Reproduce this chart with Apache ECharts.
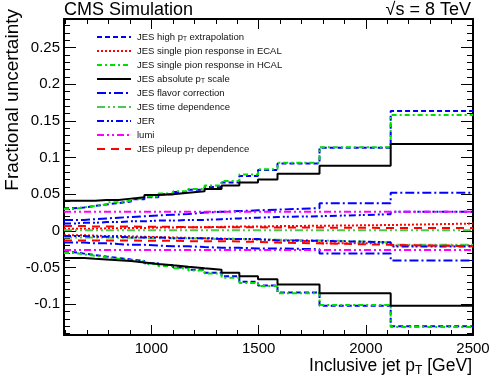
<!DOCTYPE html>
<html>
<head>
<meta charset="utf-8">
<script src="https://cdn.jsdelivr.net/npm/echarts@6/dist/echarts.min.js"></script>
<style>
  html, body { margin: 0; padding: 0; background: #fff; }
  #chart { width: 498px; height: 387px; }
</style>
</head>
<body>
<div id="chart"></div>
<script>
// bin edges (GeV)
var edges = [592, 638, 686, 737, 790, 846, 905, 967, 1032, 1101, 1172, 1248, 1327, 1410, 1497, 1588, 1784, 2116, 2500];

// tick labels
var xMajorTicks = [1000, 1500, 2000, 2500];
var yMajorTicks = [-0.1, -0.05, 0, 0.05, 0.1, 0.15, 0.2, 0.25];

// one value per bin, up / down
var highPtUp = [0.031, 0.032, 0.034, 0.036, 0.038, 0.040, 0.043, 0.046, 0.050, 0.053, 0.056, 0.060, 0.066, 0.075, 0.083, 0.092, 0.1135, 0.1635];
var highPtDn = [-0.029, -0.031, -0.033, -0.035, -0.037, -0.039, -0.041, -0.044, -0.047, -0.050, -0.053, -0.057, -0.062, -0.0695, -0.0745, -0.084, -0.102, -0.130];
var ecalUp = [0.003, 0.003, 0.003, 0.0035, 0.0035, 0.004, 0.004, 0.0045, 0.0045, 0.005, 0.005, 0.0055, 0.006, 0.006, 0.0065, 0.007, 0.008, 0.010];
var ecalDn = [-0.006, -0.006, -0.0065, -0.007, -0.007, -0.0075, -0.008, -0.0085, -0.009, -0.0095, -0.010, -0.0105, -0.011, -0.012, -0.013, -0.014, -0.017, -0.020];
var hcalUp = [0.030, 0.032, 0.034, 0.036, 0.039, 0.041, 0.044, 0.047, 0.051, 0.054, 0.057, 0.062, 0.068, 0.077, 0.084, 0.093, 0.114, 0.158];
var hcalDn = [-0.030, -0.032, -0.034, -0.036, -0.038, -0.040, -0.042, -0.045, -0.048, -0.051, -0.054, -0.058, -0.064, -0.071, -0.075, -0.085, -0.101, -0.131];
var absUp = [0.041, 0.041, 0.041, 0.042, 0.042, 0.044, 0.046, 0.049, 0.050, 0.052, 0.054, 0.057, 0.062, 0.066, 0.070, 0.078, 0.089, 0.1185];
var absDn = [-0.037, -0.037, -0.038, -0.039, -0.040, -0.041, -0.043, -0.045, -0.047, -0.049, -0.051, -0.053, -0.057, -0.062, -0.066, -0.073, -0.085, -0.102];
var flavorUp = [0.015, 0.015, 0.016, 0.017, 0.018, 0.019, 0.020, 0.021, 0.022, 0.023, 0.025, 0.026, 0.027, 0.028, 0.029, 0.031, 0.0377, 0.052];
var flavorDn = [-0.016, -0.016, -0.017, -0.017, -0.018, -0.019, -0.019, -0.020, -0.021, -0.021, -0.022, -0.023, -0.023, -0.024, -0.024, -0.025, -0.031, -0.0405];
var timeUp = [0.0008, 0.0008, 0.0008, 0.0008, 0.0008, 0.0008, 0.0008, 0.0008, 0.0008, 0.0008, 0.0008, 0.0008, 0.0008, 0.0008, 0.0008, 0.0008, 0.0008, 0.0008];
var timeDn = [-0.009, -0.009, -0.009, -0.009, -0.0095, -0.0095, -0.0095, -0.010, -0.010, -0.010, -0.0105, -0.011, -0.011, -0.0115, -0.012, -0.013, -0.0155, -0.019];
var jerUp = [0.010, 0.011, 0.011, 0.012, 0.012, 0.013, 0.013, 0.014, 0.014, 0.015, 0.015, 0.016, 0.017, 0.018, 0.019, 0.020, 0.0227, 0.026];
var jerDn = [-0.007, -0.007, -0.008, -0.008, -0.008, -0.009, -0.009, -0.009, -0.010, -0.010, -0.010, -0.011, -0.011, -0.011, -0.013, -0.0135, -0.0155, -0.0214];
var lumiUp = [0.026, 0.026, 0.026, 0.026, 0.026, 0.026, 0.026, 0.026, 0.026, 0.026, 0.026, 0.026, 0.026, 0.026, 0.026, 0.026, 0.026, 0.026];
var lumiDn = [-0.026, -0.026, -0.026, -0.026, -0.026, -0.026, -0.026, -0.026, -0.026, -0.026, -0.026, -0.026, -0.026, -0.026, -0.026, -0.026, -0.026, -0.026];
var pileupUp = [0.0065, 0.0065, 0.006, 0.006, 0.006, 0.006, 0.0055, 0.0055, 0.0055, 0.005, 0.005, 0.005, 0.005, 0.005, 0.0045, 0.0045, 0.004, 0.004];
var pileupDn = [-0.013, -0.013, -0.013, -0.013, -0.013, -0.013, -0.0135, -0.0135, -0.0135, -0.014, -0.014, -0.014, -0.0145, -0.015, -0.016, -0.017, -0.019, -0.021];

var sources = [
  {name: 'JES high pT extrapolation', up: highPtUp, dn: highPtDn, color: '#0000ff', type: [5, 3]},
  {name: 'JES single pion response in ECAL', up: ecalUp, dn: ecalDn, color: '#ff0000', type: [2, 2]},
  {name: 'JES single pion response in HCAL', up: hcalUp, dn: hcalDn, color: '#00e000', type: [5, 3, 2, 3]},
  {name: 'JES absolute pT scale', up: absUp, dn: absDn, color: '#000000', type: 'solid'},
  {name: 'JES flavor correction', up: flavorUp, dn: flavorDn, color: '#0000ff', type: [9, 3, 2, 3]},
  {name: 'JES time dependence', up: timeUp, dn: timeDn, color: '#4cc84c', type: [8, 3, 2, 3, 2, 3]},
  {name: 'JER', up: jerUp, dn: jerDn, color: '#0000ff', type: [7, 3, 2, 2, 2, 3]},
  {name: 'lumi', up: lumiUp, dn: lumiDn, color: '#ff00ff', type: [7, 3, 2, 3, 2, 3]},
  {name: 'JES pileup pT dependence', up: pileupUp, dn: pileupDn, color: '#ff0000', type: [8, 6]}
];

var font = 'Liberation Sans';

function toSteps(vals) {
  // last edge repeats the last bin value
  return edges.map(function (e, i) {
    return [e, vals[Math.min(i, vals.length - 1)]];
  });
}

function minorTicks(from, to, step, scale) {
  var out = [];
  for (var i = from; i <= to; i += step) out.push(i / scale);
  return out;
}

function initChart() {
  var chart = echarts.init(document.getElementById('chart'), null, {renderer: 'canvas'});

  var xMinor = minorTicks(600, 2500, 100, 1);
  var yMinor = minorTicks(-14, 28, 1, 100);

  var series = [];
  sources.forEach(function (s) {
    [s.up, s.dn].forEach(function (vals) {
      series.push({
        name: s.name,
        type: 'line',
        step: 'end',
        symbol: 'none',
        xAxisIndex: 0,
        yAxisIndex: 0,
        data: toSteps(vals),
        lineStyle: {color: s.color, width: 2, type: s.type},
        itemStyle: {color: s.color},
        emphasis: {disabled: true}
      });
    });
  });

  function xAx(pos, ticks, len, labels, line) {
    return {
      type: 'value', min: 592, max: 2500, position: pos,
      axisLine: {show: line, onZero: false, lineStyle: {color: '#000', width: 2}},
      axisTick: {show: true, inside: true, length: len, customValues: ticks, lineStyle: {color: '#000', width: 1}},
      axisLabel: labels ? {
        show: true, customValues: xMajorTicks, color: '#000', fontSize: 15, fontFamily: font, margin: 6,
        formatter: function (v) { return String(v); }
      } : {show: false},
      splitLine: {show: false}
    };
  }

  function yAx(pos, ticks, len, labels, line) {
    return {
      type: 'value', min: -0.142, max: 0.289, position: pos,
      axisLine: {show: line, onZero: false, lineStyle: {color: '#000', width: 2}},
      axisTick: {show: true, inside: true, length: len, customValues: ticks, lineStyle: {color: '#000', width: 1}},
      axisLabel: labels ? {
        show: true, customValues: yMajorTicks, color: '#000', fontSize: 15, fontFamily: font, margin: 4,
        formatter: function (v) { return String(v); }
      } : {show: false},
      splitLine: {show: false}
    };
  }

  chart.setOption({
    animation: false,
    backgroundColor: '#fff',
    grid: {left: 64, right: 25, top: 19, bottom: 52, containLabel: false},
    xAxis: [
      xAx('bottom', xMajorTicks, 10, true, true),
      xAx('bottom', xMinor, 5, false, false),
      xAx('top', xMajorTicks, 10, false, true),
      xAx('top', xMinor, 5, false, false)
    ],
    yAxis: [
      yAx('left', yMajorTicks, 12, true, true),
      yAx('left', yMinor, 6, false, false),
      yAx('right', yMajorTicks, 12, false, true),
      yAx('right', yMinor, 6, false, false)
    ],
    legend: {
      data: sources.map(function (s) { return s.name; }),
      orient: 'vertical',
      left: 91,
      top: 26,
      itemWidth: 34,
      itemHeight: 12,
      itemGap: 2,
      selectedMode: false,
      itemStyle: {opacity: 0},
      formatter: function (name) {
        return name.replace('pT', 'p{s|T}');
      },
      textStyle: {
        fontFamily: font, fontSize: 9.5, color: '#111', lineHeight: 12,
        padding: [0, 0, 0, 1],
        rich: {
          s: {fontFamily: font, fontSize: 6.5, lineHeight: 12, verticalAlign: 'bottom', padding: [4, 0, 0, 0], color: '#111'}
        }
      }
    },
    graphic: [
      {type: 'text', x: 64, y: 1, style: {text: 'CMS Simulation', font: '18px "Liberation Sans"', fill: '#000'}},
      {type: 'text', x: 471, y: 1, style: {text: '\u221As = 8 TeV', font: '18px "Liberation Sans"', fill: '#000', align: 'right'}},
      {type: 'text', x: 13, y: 9, rotation: Math.PI / 2,
        style: {text: 'Fractional uncertainty', font: '19px "Liberation Sans"', fill: '#000', align: 'right', verticalAlign: 'middle'}},
      {type: 'text', x: 472, y: 366,
        style: {
          text: 'Inclusive jet p{s|T} [GeV]', font: '17.5px "Liberation Sans"', fill: '#000', align: 'right', verticalAlign: 'middle',
          rich: {s: {font: '12px "Liberation Sans"', fill: '#000', padding: [9, 0, 0, 0]}}
        }}
    ],
    series: series
  });
  return chart;
}

var chart = initChart();
window.addEventListener('resize', function () { chart.resize(); });
</script>
</body>
</html>
